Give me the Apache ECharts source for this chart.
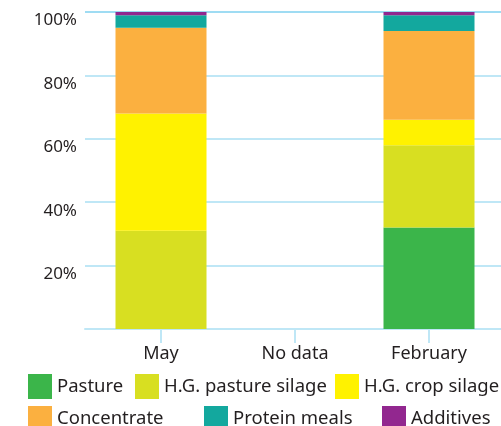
<!DOCTYPE html>
<html>
<head>
<meta charset="utf-8">
<script src="https://cdn.jsdelivr.net/npm/echarts@6/dist/echarts.min.js"></script>
<style>
  html, body { margin: 0; padding: 0; background: #fff; }
  #main { width: 501px; height: 426px; }
</style>
</head>
<body>
<div id="main"></div>
<script>
"use strict";

var categories = ["May", "No data", "February"];
var pasture = [0, "-", 32];
var pastureSilage = [31, "-", 26];
var cropSilage = [37, "-", 8];
var concentrate = [27, "-", 28];
var proteinMeals = [4, "-", 5];
var additives = [1, "-", 1];
var yTicks = [0, 20, 40, 60, 80, 100];

var names = ["Pasture", "H.G. pasture silage", "H.G. crop silage", "Concentrate", "Protein meals", "Additives"];
var colors = ["#3bb54a", "#d8df21", "#fff200", "#fbb040", "#13a89e", "#92278f"];
var values = [pasture, pastureSilage, cropSilage, concentrate, proteinMeals, additives];

var font = "Noto Sans";
var myChart = echarts.init(document.getElementById("main"));

// legend spots: two rows, not evenly spread
var legendPos = [
  [28, 374], [135, 374], [335, 374],
  [28, 406], [204, 406], [382, 406],
];
var legends = names.map(function (n, i) {
  return {
    data: [n],
    left: legendPos[i][0],
    top: legendPos[i][1],
    padding: 0,
    icon: "rect",
    itemWidth: 24,
    itemHeight: 25,
    selectedMode: false,
    textStyle: { fontFamily: font, fontSize: 18.5, color: "#231f20" },
  };
});

var series = names.map(function (n, i) {
  return {
    name: n,
    type: "bar",
    stack: "total",
    barWidth: 91,
    xAxisIndex: 0,
    yAxisIndex: 0,
    itemStyle: { color: colors[i] },
    data: values[i],
  };
});

var option = {
  animation: false,
  color: colors,
  legend: legends,
  grid: [
    { left: 94, top: 12, width: 402, height: 317 },
    { left: 85, top: 12, right: 0, height: 317 },
  ],
  xAxis: [
    {
      gridIndex: 0,
      type: "category",
      data: categories,
      axisLine: { show: false },
      axisTick: { show: true, alignWithLabel: true, length: 14, lineStyle: { color: "#bfe7f6", width: 2 } },
      axisLabel: { fontFamily: font, fontSize: 18, color: "#231f20", margin: 16 },
    },
    {
      gridIndex: 1,
      type: "value",
      min: 0,
      max: 1,
      axisLine: { show: true, lineStyle: { color: "#bfe7f6", width: 2 } },
      axisTick: { show: false },
      axisLabel: { show: false },
      splitLine: { show: false },
    },
  ],
  yAxis: [
    { gridIndex: 0, type: "value", min: 0, max: 100, show: false },
    {
      gridIndex: 1,
      type: "value",
      min: 0,
      max: 100,
      interval: 20,
      axisLine: { show: false },
      axisTick: { show: false },
      axisLabel: {
        fontFamily: font,
        fontSize: 17,
        color: "#231f20",
        margin: 8,
        verticalAlign: "top",
        formatter: function (v) {
          return v === yTicks[0] ? "" : v + "%";
        },
      },
      splitLine: {
        lineStyle: {
          color: ["#bfe7f6", "#bfe7f6", "#bfe7f6", "#bfe7f6", "#bfe7f6", "#9fdcf3"],
          width: 2,
        },
      },
    },
  ],
  series: series,
};

myChart.setOption(option);
</script>
</body>
</html>
